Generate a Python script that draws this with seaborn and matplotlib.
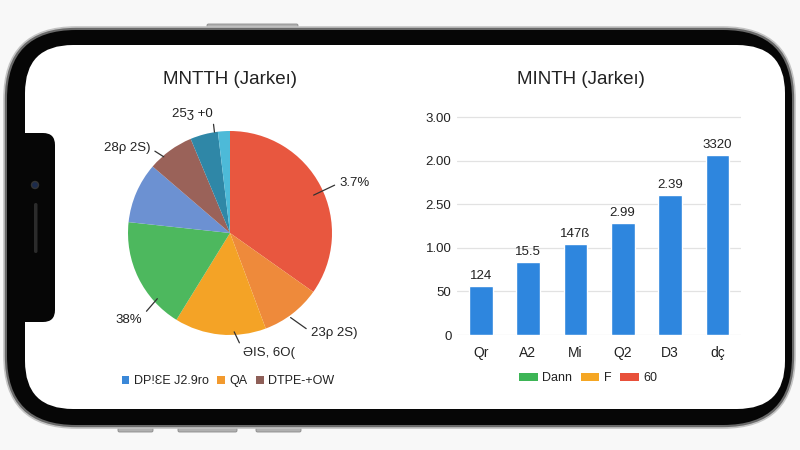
import numpy as np
import matplotlib
matplotlib.use("Agg")
import matplotlib.pyplot as plt
from matplotlib.patches import FancyBboxPatch, Patch, Circle
import seaborn as sns

# pie slices, clockwise from 12 o'clock
pie_shares = [34.8, 9.5, 14.5, 17.9, 9.6, 7.4, 4.4, 1.9]
pie_colors = ['#E8573F', '#EE8A3B', '#F4A326', '#4DB85E', '#6C91D2', '#9A6259', '#2F87A7', '#4DBAD8']
pie_labels = ['3.7%', '23ρ 2S)', 'ƏIS, 6O(', '38%', '', '28ρ 2S)', '25ʒ +0', '']
pie_legend = ['DP!ƐE J2.9ro', 'QA', 'DTPE-+OW']
pie_legend_colors = ['#3A88D8', '#F29A2E', '#8E5F58']

# bar chart
bar_cats = ['Qr', 'A2', 'Mi', 'Q2', 'D3', 'dç']
bar_vals = [1.12, 1.67, 2.09, 2.58, 3.21, 4.14]
bar_texts = ['124', '15.5', '147ß', '2.99', '2.39', '3320']
y_ticklabels = ['0', '50', '1.00', '2.50', '2.00', '3.00']
bar_legend = ['Dann', 'F', '60']
bar_legend_colors = ['#3DB556', '#F5A623', '#E8503A']

sns.set_theme(style='white')
plt.rcParams['font.family'] = ['Liberation Sans', 'DejaVu Sans']
TXT = '#222222'

W, H = 800, 450
fig = plt.figure(figsize=(8, 4.5), dpi=100, facecolor='#f8f8f8')


def fx(x):
    return x / W


def fy(y):
    return 1 - y / H


# phone body, drawn in pixel units
bg = fig.add_axes([0, 0, 1, 1])
bg.set_xlim(0, W)
bg.set_ylim(H, 0)
bg.axis('off')


def rbox(x, y, w, h, r, **kw):
    bg.add_patch(FancyBboxPatch((x, y), w, h, boxstyle=f'round,pad=0,rounding_size={r}', **kw))


for bx, by, bw, bh in [(207, 24, 91, 4), (118, 427, 35, 5), (178, 427, 59, 5), (256, 427, 45, 5)]:
    rbox(bx, by, bw, bh, 1.5, fc='#b0b0b0', ec='#8a8a8a', lw=0.6)
rbox(4, 27, 791, 401, 72, fc='#6a6a6a', ec='#c4c4c4', lw=1.2)
rbox(7, 30, 785, 395, 69, fc='#060606', ec='none')
rbox(25, 45, 760, 364, 48, fc='white', ec='none')
rbox(12, 133, 43, 189, 12, fc='#060606', ec='none')
bg.add_patch(Circle((35, 185), 3.5, fc='#1c2b4c', ec='#333'))
rbox(34, 203, 3.5, 50, 1.7, fc='#2b2b2b', ec='none')

# ---- pie ----
cx, cy, rad = 230, 233, 102
half = 140
axp = fig.add_axes([fx(cx - half), fy(cy + half), 2 * half / W, 2 * half / H])
axp.set_facecolor('none')
wedges, _ = axp.pie(pie_shares, colors=pie_colors, startangle=90, counterclock=False,
                    wedgeprops=dict(linewidth=0))
lim = half / rad
axp.set_xlim(-lim, lim)
axp.set_ylim(-lim, lim)
axp.set_aspect('equal')
axp.axis('off')

# text position (radius units), alignment, leader start on text, leader shift from slice middle, leader radius
label_pos = {
    '3.7%': ((1.07, 0.49), 'left', (0, 0.5), -3, 0.9),
    '23ρ 2S)': ((0.79, -0.98), 'left', (0, 0.6), -2, 1.02),
    'ƏIS, 6O(': ((0.13, -1.18), 'left', (0, 0.7), 8, 0.97),
    '38%': ((-0.86, -0.85), 'right', (1, 0.8), 16, 0.96),
    '28ρ 2S)': ((-0.78, 0.83), 'right', (1, 0.5), 5, 0.99),
    '25ʒ +0': ((-0.17, 1.17), 'right', (1, 0.2), -6, 1.0),
}
for w, lab in zip(wedges, pie_labels):
    if not lab:
        continue
    (tx, ty), ha, rel, shift, r_at = label_pos[lab]
    ang = np.deg2rad((w.theta1 + w.theta2) / 2 + shift)
    axp.annotate(lab, xy=(r_at * np.cos(ang), r_at * np.sin(ang)), xytext=(tx, ty),
                 ha=ha, va='center', fontsize=9.5, color=TXT,
                 arrowprops=dict(arrowstyle='-', color='#333', lw=0.9, relpos=rel,
                                 shrinkA=1, shrinkB=0))

fig.text(fx(230), fy(80), 'MNTTH (Jarkeı)', ha='center', va='center', fontsize=13.5, color=TXT)
fig.legend(handles=[Patch(fc=c, ec='none', label=l) for c, l in zip(pie_legend_colors, pie_legend)],
           loc='center', bbox_to_anchor=(fx(228), fy(381)), ncol=3, frameon=False,
           fontsize=9, handlelength=0.6, handleheight=0.6, handletextpad=0.35,
           columnspacing=0.7, labelcolor=TXT)

# ---- bars ----
step = 43.54
ytop = 5.1
axb = fig.add_axes([fx(457), fy(335), 284 / W, ytop * step / H])
axb.set_facecolor('none')
sns.barplot(x=bar_cats, y=bar_vals, color='#2E86DE', saturation=1, width=0.5, ax=axb)
axb.bar_label(axb.containers[0], labels=bar_texts, padding=3, fontsize=9.5, color=TXT)
axb.set_xlim(-0.5, len(bar_cats) - 0.5)
axb.set_ylim(0, ytop)
axb.set_yticks(range(len(y_ticklabels)))
axb.set_yticklabels(y_ticklabels)
axb.yaxis.grid(True, color='#e2e2e2', lw=0.9)
axb.set_axisbelow(True)
axb.tick_params(axis='y', length=0, pad=4, labelsize=9.5, labelcolor=TXT)
axb.tick_params(axis='x', length=0, pad=8, labelsize=10, labelcolor=TXT)
for s in axb.spines.values():
    s.set_visible(False)

fig.text(fx(581), fy(80), 'MINTH (Jarkeı)', ha='center', va='center', fontsize=13.5, color=TXT)
fig.legend(handles=[Patch(fc=c, ec='none', label=l) for c, l in zip(bar_legend_colors, bar_legend)],
           loc='center', bbox_to_anchor=(fx(588), fy(378)), ncol=3, frameon=False,
           fontsize=9, handlelength=1.5, handleheight=0.6, handletextpad=0.35,
           columnspacing=0.7, labelcolor=TXT)

fig.savefig('out.png', dpi=100, facecolor=fig.get_facecolor())
